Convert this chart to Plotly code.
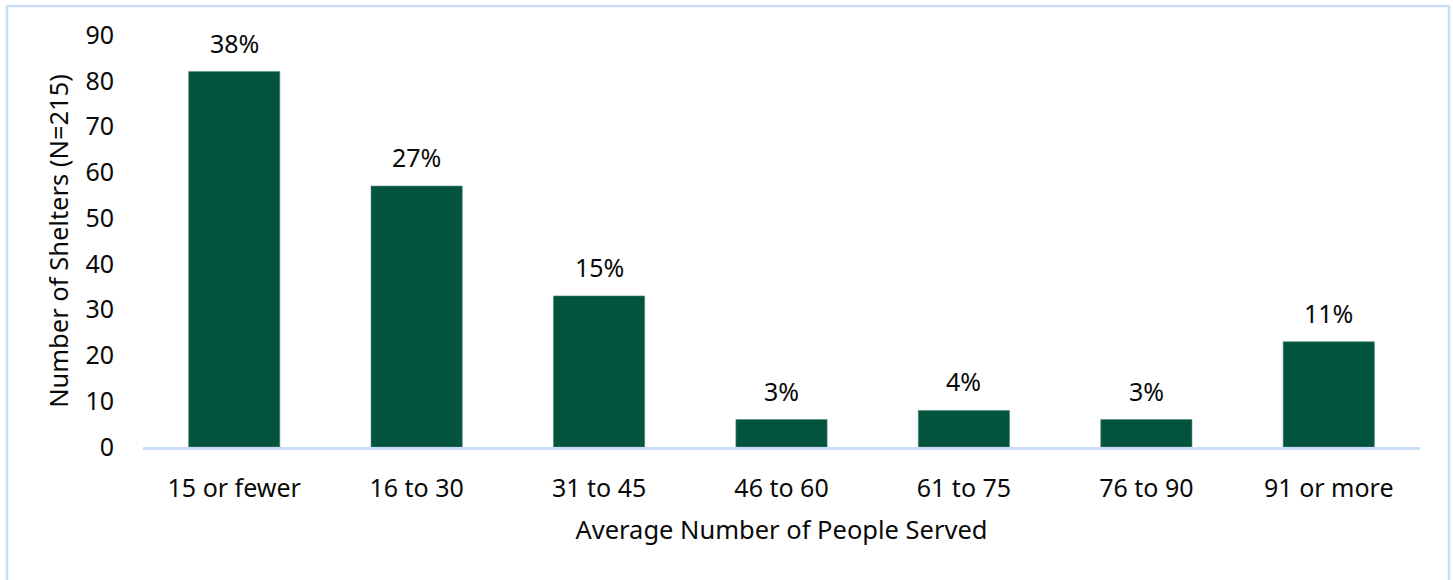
import plotly.graph_objects as go

categories = ["15 or fewer", "16 to 30", "31 to 45", "46 to 60", "61 to 75", "76 to 90", "91 or more"]
shelters = [82, 57, 33, 6, 8, 6, 23]
y_ticks = [0, 10, 20, 30, 40, 50, 60, 70, 80, 90]

total = sum(shelters)
pct_labels = [f"{round(v / total * 100)}%" for v in shelters]

FONT = "Noto Sans"
BAR = "#03543F"
LINE = "#C9DCF8"
TXT = "#0a0a0a"

W, H = 1453, 580
ML, MR, MT, MB = 143, 33, 35, 133
pw, ph = W - ML - MR, H - MT - MB

fig = go.Figure(
    go.Bar(
        x=categories,
        y=shelters,
        marker=dict(color=BAR, line=dict(color="#4E8A78", width=0.6)),
        hoverinfo="x+y",
    )
)

for c, v, t in zip(categories, shelters, pct_labels):
    fig.add_annotation(
        x=c, y=v, text=t, showarrow=False, yanchor="bottom", yshift=10,
        font=dict(family=FONT, size=25, color=TXT),
    )

# outer frame around the whole chart
def px_x(p):
    return (p - ML) / pw

def px_y(p):
    return (H - MB - p) / ph

fig.add_shape(
    type="rect", xref="paper", yref="paper",
    x0=px_x(7), x1=px_x(1449), y0=px_y(620), y1=px_y(6),
    line=dict(color=LINE, width=2.5), fillcolor="rgba(0,0,0,0)", layer="below",
)

fig.update_layout(
    width=W, height=H,
    margin=dict(l=ML, r=MR, t=MT, b=MB, pad=0),
    paper_bgcolor="white", plot_bgcolor="white",
    bargap=0.5,
    showlegend=False,
    font=dict(family=FONT, size=25, color=TXT),
    xaxis=dict(
        showline=True, linecolor=LINE, linewidth=2.5,
        showgrid=False, ticks="", ticklabelstandoff=17,
        title=dict(text="Average Number of People Served", standoff=19,
                   font=dict(family=FONT, size=25.5)),
        tickfont=dict(family=FONT, size=25),
    ),
    yaxis=dict(
        range=[0, 90], tickvals=y_ticks, showline=False, showgrid=False,
        zeroline=False, ticks="", ticklabelstandoff=28,
        title=dict(text="Number of Shelters (N=215)", standoff=9,
                   font=dict(family=FONT, size=25.5)),
        tickfont=dict(family=FONT, size=25),
    ),
)

fig.write_html("out.html")
